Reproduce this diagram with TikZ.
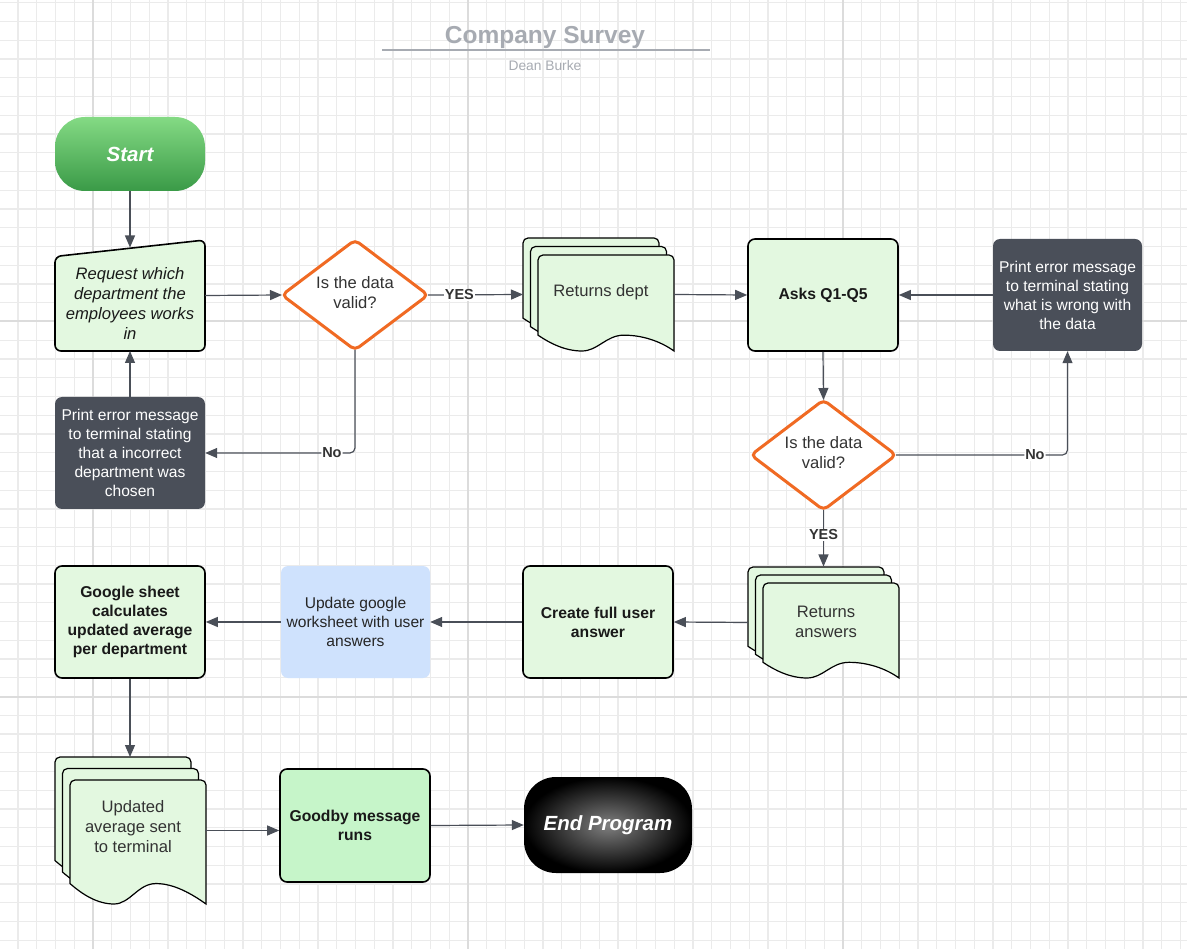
\documentclass[tikz,border=0pt]{standalone}
\usepackage{fontspec}
\setmainfont{Liberation Sans}
\usetikzlibrary{arrows.meta,calc}
\definecolor{gridminor}{HTML}{EBEBEB}
\definecolor{gridmajor}{HTML}{DCDCDC}
\definecolor{procfill}{HTML}{E3F8E0}
\definecolor{goodfill}{HTML}{C6F5C9}
\definecolor{errfill}{HTML}{4A4F59}
\definecolor{bluefill}{HTML}{CFE2FD}
\definecolor{dorange}{HTML}{F06A23}
\definecolor{lineclr}{HTML}{4A4F58}
\definecolor{titleclr}{HTML}{A7ABB2}
\definecolor{txt}{HTML}{333333}
\definecolor{startA}{HTML}{84DA84}
\definecolor{startB}{HTML}{3A9A47}
\newcommand{\docshape}[3]{%
  \draw[docsty] (#1,#2+0.835*#3) [rounded corners=5] -- (#1,#2) -- (#1+136,#2) -- (#1+136,#2+20) [sharp corners] -- (#1+136,#2+#3)
    .. controls (#1+122,#2+#3-10) and (#1+104,#2+0.835*#3) .. (#1+86,#2+0.835*#3)
    .. controls (#1+68,#2+0.835*#3) and (#1+60,#2+#3) .. (#1+44,#2+#3)
    .. controls (#1+27,#2+#3) and (#1+12,#2+0.92*#3) .. (#1,#2+0.835*#3) -- cycle;}
\newcommand{\docstack}[5]{%
  \docshape{#1}{#2}{#3}\docshape{#1+#4}{#2+#5}{#3}\docshape{#1+2*#4}{#2+2*#5}{#3}}
\tikzset{
  docsty/.style={draw=black, line width=1.2, fill=procfill},
  procbox/.style={rectangle, rounded corners=7, draw=black, line width=1.6, fill=procfill,
    minimum width=150, minimum height=112, inner sep=0, align=center,
    font=\bfseries\fontsize{15.7}{19}\selectfont, text=black!90},
  errbox/.style={rectangle, rounded corners=7, fill=errfill, minimum width=149, minimum height=112,
    inner sep=0, align=center, text=white, font=\fontsize{15.6}{19}\selectfont},
  ghost/.style={rectangle, inner sep=0, outer sep=0},
  diamtxt/.style={align=center, text=txt, font=\fontsize{16.6}{20}\selectfont},
  diam/.style={draw=dorange, line width=3, fill=white, rounded corners=5},
  doctxt/.style={align=center, text=txt, font=\fontsize{16.6}{20}\selectfont},
  conn/.style={draw=lineclr, line width=1.2, -{Triangle[length=12,width=10]}},
  lbl/.style={fill=white, inner sep=1, text=txt, font=\bfseries\fontsize{14.5}{16}\selectfont},
  pill/.style={rectangle, inner sep=0, text=white, font=\bfseries\itshape\fontsize{20.5}{24}\selectfont}
}
\begin{document}
\begin{tikzpicture}[x=1pt, y=-1pt]
% background and grid
\fill[white] (0,0) rectangle (1187,949);
\useasboundingbox (0,0) rectangle (1187,949);
\foreach \i in {1,...,63} { \draw[gridminor, line width=1.1] (-0.75+18.75*\i,0) -- (-0.75+18.75*\i,949); }
\foreach \i in {0,...,50} { \draw[gridminor, line width=1.1] (0,2.75+18.75*\i) -- (1187,2.75+18.75*\i); }
\foreach \i in {5,25,45} { \draw[gridmajor, line width=2] (-0.75+18.75*\i,0) -- (-0.75+18.75*\i,949); }
\foreach \i in {17,37} { \draw[gridmajor, line width=2] (0,2.75+18.75*\i) -- (1187,2.75+18.75*\i); }

% title
\node[text=titleclr, font=\bfseries\fontsize{24.5}{28}\selectfont] (title) at (545,37) {Company Survey};
\coordinate (tl) at (382,50);
\coordinate (tr) at (710,50);
\draw[titleclr, line width=2] (tl) -- (tr);
\node[text=titleclr, font=\fontsize{13.8}{16}\selectfont] (author) at (545,66) {Dean Burke};

% start
\node[pill, minimum width=150, minimum height=74, rounded corners=30, top color=startA, bottom color=startB] (start) at (130,154) {Start};

% request (slanted top)
\node[ghost, minimum width=150, minimum height=111] (req) at (130,295.5) {};
\draw[draw=black, line width=1.6, fill=procfill, rounded corners=6] (55,256.5) -- (205,240) -- (205,351) -- (55,351) -- cycle;
\node[align=center, text=black!90, font=\itshape\fontsize{16.6}{20}\selectfont] (reqtxt) at (130,303) {Request which\\department the\\employees works\\in};
\coordinate (reqtop) at (130,247.5);

% diamond 1
\node[ghost, minimum width=146, minimum height=110] (d1) at (355,295) {};
\draw[diam] (d1.north) -- (d1.east) -- (d1.south) -- (d1.west) -- cycle;
\node[diamtxt] (d1t) at (355,293) {Is the data\\valid?};

% error 1
\node[errbox, minimum width=150] (err1) at (130,453) {Print error message\\to terminal stating\\that a incorrect\\department was\\chosen};

% returns dept stack
\docstack{523}{238}{96}{7.5}{8.5}
\node[ghost, minimum width=151, minimum height=113] (rd) at (598.5,294.5) {};
\node[doctxt] (rdt) at (601,292.5) {Returns dept};

% asks
\node[procbox] (asks) at (823,295) {Asks Q1-Q5};

% error 2
\node[errbox] (err2) at (1067.5,295) {Print error message\\to terminal stating\\what is wrong with\\the data};

% diamond 2
\node[ghost, minimum width=145, minimum height=110] (d2) at (823.5,455) {};
\draw[diam] (d2.north) -- (d2.east) -- (d2.south) -- (d2.west) -- cycle;
\node[diamtxt] (d2t) at (823.5,453) {Is the data\\valid?};

% returns answers stack
\docstack{748}{567}{95}{7.5}{8}
\node[ghost, minimum width=151, minimum height=112] (ra) at (823.5,622.5) {};
\node[doctxt] (rat) at (826,621.5) {Returns\\answers};

% create full user answer
\node[procbox] (create) at (598,622) {Create full user\\answer};

% update worksheet
\node[rectangle, rounded corners=7, fill=bluefill, minimum width=149, minimum height=112, inner sep=0,
  align=center, text=black!85, font=\fontsize{15.6}{19}\selectfont] (upd) at (355.5,622) {Update google\\worksheet with user\\answers};

% google sheet
\node[procbox] (gs) at (130,622) {Google sheet\\calculates\\updated average\\per department};

% updated average stack
\docstack{55}{757}{124}{7.5}{11.5}
\node[ghost, minimum width=150, minimum height=147] (ud) at (130,830.5) {};
\node[doctxt] (udt) at (133,827) {Updated\\average sent\\to terminal};

% goodby
\node[procbox, fill=goodfill, minimum height=113] (gb) at (355,825.5) {Goodby message\\runs};

% end program
\node[pill, minimum width=168, minimum height=96, rounded corners=32, shading=radial, inner color=black!50, outer color=black] (endp) at (608,825) {End Program};

% connectors
\draw[conn] (start.south) -- (reqtop);
\draw[conn] (req.east) -- (d1.west);
\draw[conn] (d1.east) -- node[lbl, pos=0.33] {YES} (rd.west);
\draw[conn, rounded corners=5] (d1.south) |- node[lbl, pos=0.577] {No} (err1.east);
\draw[conn] (err1.north) -- (req.south);
\draw[conn] (rd.east) -- (asks.west);
\draw[conn] (err2.west) -- (asks.east);
\draw[conn] (asks.south) -- (d2.north);
\draw[conn, rounded corners=5] (d2.east) -| node[lbl, pos=0.405] {No} (err2.south);
\draw[conn] (d2.south) -- node[lbl, pos=0.44] {YES} (ra.north);
\draw[conn] (ra.west) -- (create.east);
\draw[conn] (create.west) -- (upd.east);
\draw[conn] (upd.west) -- (gs.east);
\draw[conn] (gs.south) -- (ud.north);
\draw[conn] (ud.east) -- (ud.east -| gb.west);
\draw[conn] (gb.east) -- (endp.west);
\end{tikzpicture}
\end{document}
